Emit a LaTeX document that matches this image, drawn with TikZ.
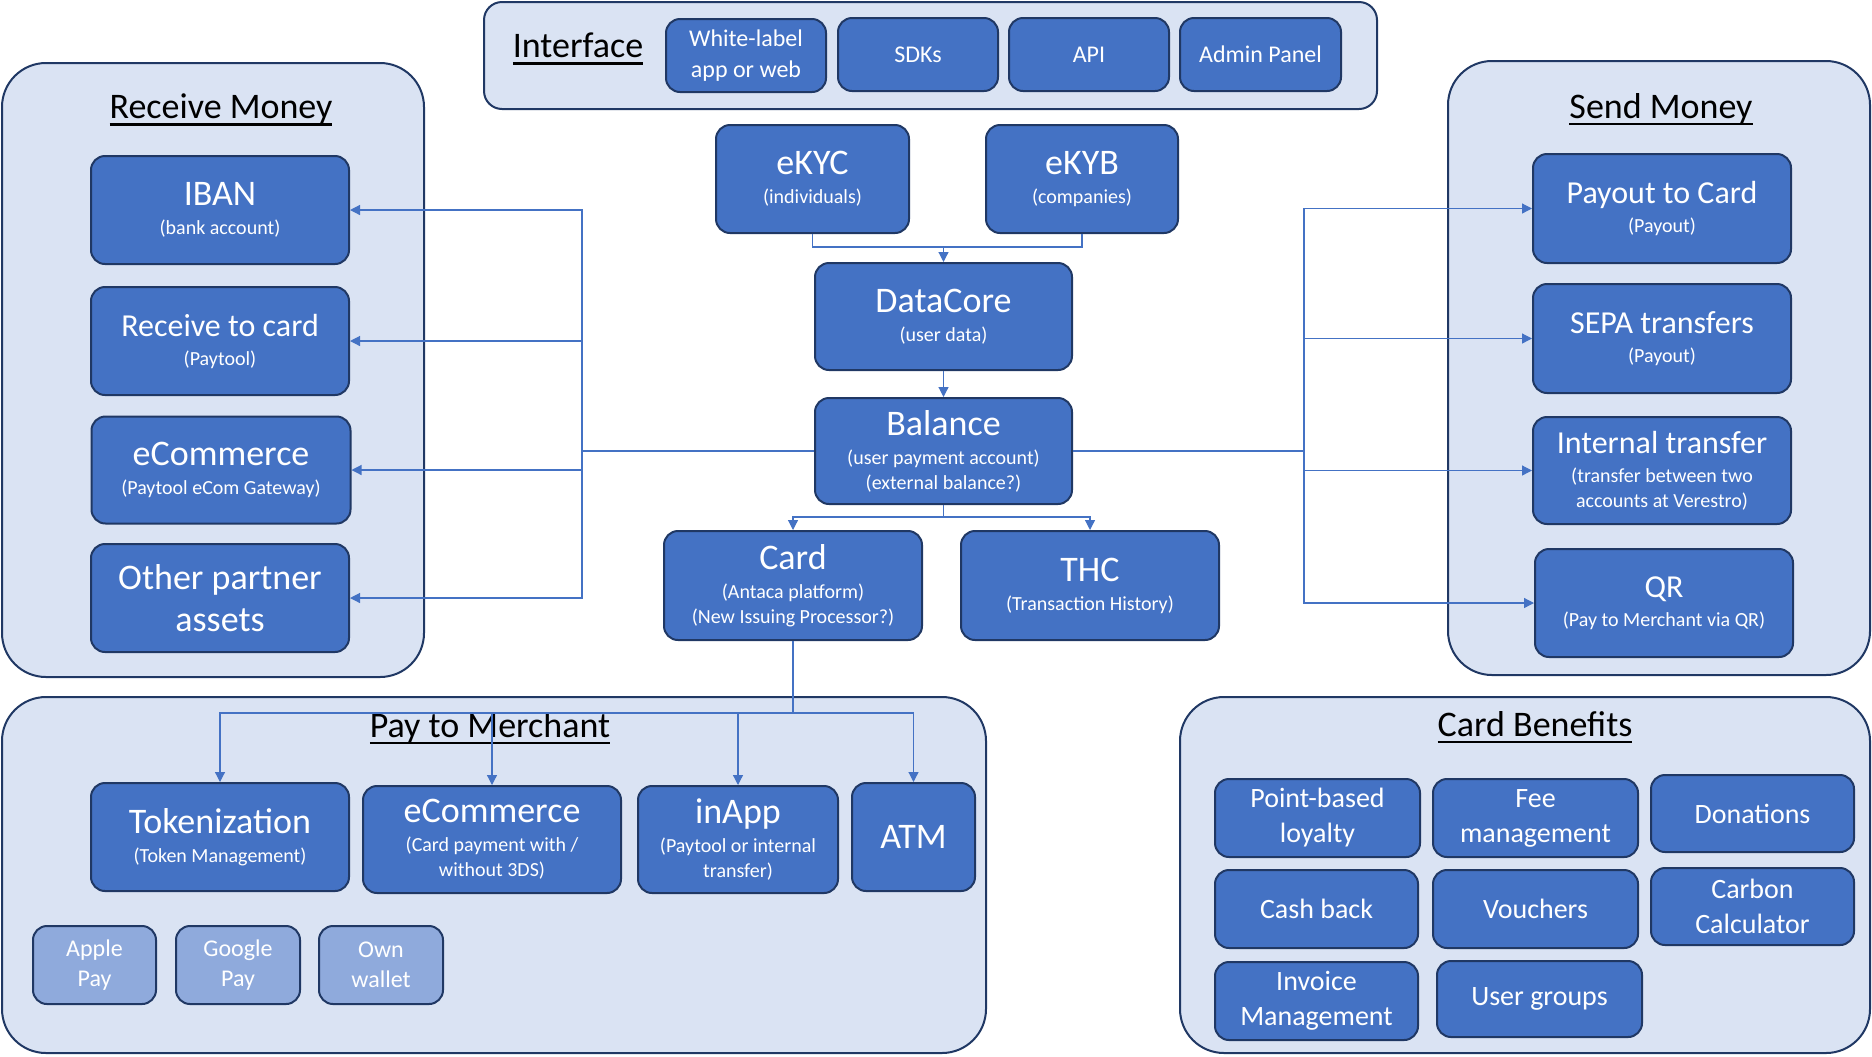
\documentclass[tikz,border=0pt]{standalone}
\usepackage{fontspec}
\setmainfont{Carlito}
\usetikzlibrary{arrows.meta}
\definecolor{boxblue}{HTML}{4472C4}
\definecolor{liteblue}{HTML}{8FAADC}
\definecolor{groupbg}{HTML}{DAE3F3}
\definecolor{navyline}{HTML}{203864}
\newcommand{\mainlbl}[1]{{\fontsize{18}{20}\selectfont #1}}
\newcommand{\midlbl}[1]{{\fontsize{16}{18}\selectfont #1}}
\newsavebox{\ulbox}
\newcommand{\ulbl}[1]{\sbox{\ulbox}{#1}\usebox{\ulbox}\llap{\raisebox{-3.5pt}{\rule{\wd\ulbox}{1.2pt}}}}

\begin{document}
\begin{tikzpicture}[x=0.5pt,y=-0.5pt,
    grp/.style={draw=navyline, fill=groupbg, line width=1pt, rounded corners=22pt},
    blk/.style={draw=navyline, fill=boxblue, line width=1pt, rounded corners=7pt, text=white, align=center, inner sep=0pt, font=\fontsize{10}{12.5}\selectfont},
    lite/.style={blk, fill=liteblue},
    boxsz/.style 2 args={minimum width=#1*0.5pt, minimum height=#2*0.5pt},
    grptitle/.style={font=\fontsize{18}{20}\selectfont, text=black, inner sep=0pt},
    benefit/.style={blk, font=\fontsize{14}{17.5}\selectfont},
    iface/.style={blk, font=\fontsize{12}{15.5}\selectfont},
    link/.style={draw=boxblue, line width=0.6pt},
    arr/.style={link, -{Triangle[length=5pt,width=5pt]}}]
    \useasboundingbox (0,0) rectangle (1872,1056);

    % Group panels
    \node[grp, rounded corners=9pt, boxsz={893}{107}] (ifacegrp) at (930.5,55.5) {};
    \node[grp, boxsz={422}{614}] (recvgrp) at (213,370) {};
    \node[grp, boxsz={422}{614}] (sendgrp) at (1659,368) {};
    \node[grp, boxsz={984}{356}] (paygrp) at (494,875) {};
    \node[grp, boxsz={690}{356}] (benegrp) at (1525,875) {};

    % Panel titles
    \node[grptitle] (ifacet) at (578,49) {\ulbl{Interface}};
    \node[grptitle] (recvt) at (221,110) {\ulbl{Receive Money}};
    \node[grptitle] (sendt) at (1661,109) {\ulbl{Send Money}};
    \node[grptitle] (payt) at (490,728) {\ulbl{Pay to Merchant}};
    \node[grptitle] (benet) at (1535,727) {\ulbl{Card Benefits}};

    % Interface
    \node[iface, boxsz={160}{73}] (wlabel) at (746,55.5) {White-label\\app or web};
    \node[iface, boxsz={160}{73}] (sdks) at (918,54.5) {SDKs};
    \node[iface, boxsz={160}{73}] (api) at (1089,54.5) {API};
    \node[iface, boxsz={161}{73}] (admin) at (1260.5,54.5) {Admin Panel};

    % Core column
    \node[blk, boxsz={193}{108}] (ekyc) at (812.5,179) {\mainlbl{eKYC}\\[2pt](individuals)};
    \node[blk, boxsz={192}{108}] (ekyb) at (1082,179) {\mainlbl{eKYB}\\[2pt](companies)};
    \node[blk, boxsz={257}{107}] (datacore) at (943.5,316.5) {\mainlbl{DataCore}\\[2pt](user data)};
    \node[blk, boxsz={257}{106}] (balance) at (943.5,451) {\mainlbl{Balance}\\[2pt](user payment account)\\(external balance?)};
    \node[blk, boxsz={258}{109}] (card) at (793,585.5) {\mainlbl{Card}\\[2pt](Antaca platform)\\(New Issuing Processor?)};
    \node[blk, boxsz={258}{109}] (thc) at (1090,585.5) {\mainlbl{THC}\\[2pt](Transaction History)};

    % Receive Money
    \node[blk, boxsz={258}{108}] (iban) at (220,210) {\mainlbl{IBAN}\\[2pt](bank account)};
    \node[blk, boxsz={258}{108}] (rcard) at (220,341) {\midlbl{Receive to card}\\[2pt](Paytool)};
    \node[blk, boxsz={259}{107}] (recom) at (221,470) {\mainlbl{eCommerce}\\[2pt](Paytool eCom Gateway)};
    \node[blk, boxsz={258}{108}, font=\fontsize{18}{21}\selectfont] (other) at (220,598) {Other partner\\assets};

    % Send Money
    \node[blk, boxsz={258}{109}] (payout) at (1662,208.5) {\midlbl{Payout to Card}\\[2pt](Payout)};
    \node[blk, boxsz={258}{109}] (sepa) at (1662,338.5) {\midlbl{SEPA transfers}\\[2pt](Payout)};
    \node[blk, boxsz={258}{107}] (internal) at (1662,470.5) {\midlbl{Internal transfer}\\[2pt](transfer between two\\accounts at Verestro)};
    \node[blk, boxsz={258}{108}] (qr) at (1664,603) {\midlbl{QR}\\[2pt](Pay to Merchant via QR)};

    % Pay to Merchant
    \node[blk, boxsz={258}{108}] (token) at (220,837) {\mainlbl{Tokenization}\\[2pt](Token Management)};
    \node[blk, boxsz={258}{107}] (pecom) at (492,839.5) {\mainlbl{eCommerce}\\[2pt](Card payment with /\\without 3DS)};
    \node[blk, boxsz={200}{107}] (inapp) at (738,839.5) {\mainlbl{inApp}\\[2pt](Paytool or internal\\transfer)};
    \node[blk, boxsz={123}{108}] (atm) at (913.5,837) {\mainlbl{ATM}};
    \node[lite, boxsz={123}{78}, font=\fontsize{12}{15}\selectfont] (apple) at (94.5,965) {Apple\\Pay};
    \node[lite, boxsz={124}{78}, font=\fontsize{12}{15}\selectfont] (google) at (238,965) {Google\\Pay};
    \node[lite, boxsz={124}{78}, font=\fontsize{12}{15}\selectfont] (own) at (381,965) {Own\\wallet};

    % Card Benefits
    \node[benefit, boxsz={205}{78}] (loyal) at (1317.5,818) {Point-based\\loyalty};
    \node[benefit, boxsz={205}{78}] (fee) at (1535.5,818) {Fee\\management};
    \node[benefit, boxsz={203}{77}] (donate) at (1752.5,813.5) {Donations};
    \node[benefit, boxsz={203}{78}] (cash) at (1316.5,909) {Cash back};
    \node[benefit, boxsz={205}{78}] (vouch) at (1535.5,909) {Vouchers};
    \node[benefit, boxsz={203}{77}] (carbon) at (1752.5,906.5) {Carbon\\Calculator};
    \node[benefit, boxsz={203}{78}] (invoice) at (1316.5,1001) {Invoice\\Management};
    \node[benefit, boxsz={205}{76}] (users) at (1539.5,999) {User groups};

    % Junction points
    \coordinate (kycjoin) at (943.5,247);
    \coordinate (baljoin) at (943.5,517);
    \coordinate (cardjoin) at (793,713);
    \coordinate (lbus) at (582,451);
    \coordinate (rbus) at (1304,451);

    % Connectors
    \draw[link] (ekyc.south) |- (kycjoin) -| (ekyb.south);
    \draw[arr] (kycjoin) -- (datacore.north);
    \draw[arr] (datacore.south) -- (balance.north);
    \draw[link] (balance.south) -- (baljoin);
    \draw[arr] (baljoin) -| (card.north);
    \draw[arr] (baljoin) -| (thc.north);

    \draw[link] (balance.west) -- (lbus);
    \foreach \dst in {iban,rcard,recom,other}
        \draw[arr] (lbus) |- (\dst.east);
    \draw[link] (balance.east) -- (rbus);
    \foreach \dst in {payout,sepa,internal,qr}
        \draw[arr] (rbus) |- (\dst.west);

    \draw[link] (card.south) -- (cardjoin);
    \foreach \dst in {token,pecom,inapp,atm}
        \draw[arr] (cardjoin) -| (\dst.north);
\end{tikzpicture}
\end{document}
